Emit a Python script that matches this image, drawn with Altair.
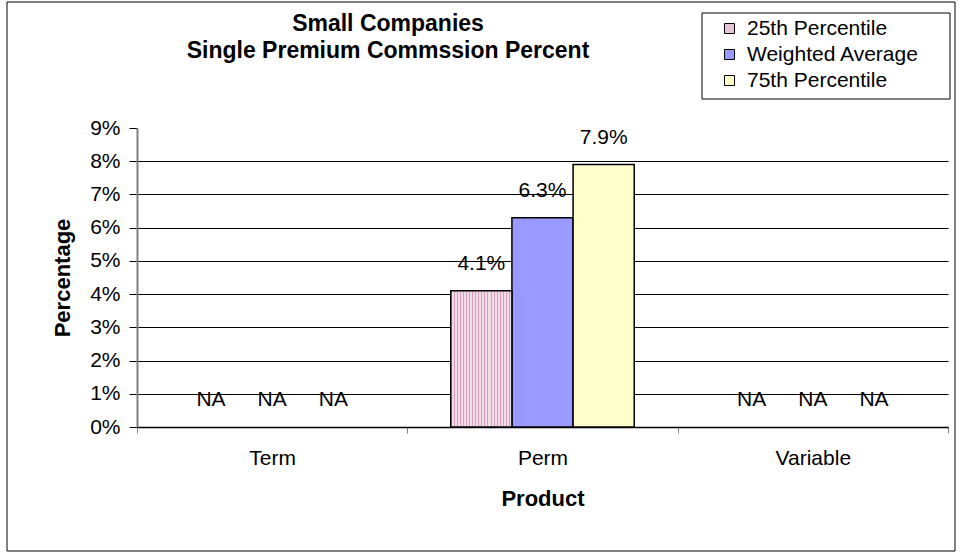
import altair as alt
import pandas as pd

products = ["Term", "Perm", "Variable"]
series = ["25th Percentile", "Weighted Average", "75th Percentile"]
term_vals = [None, None, None]
perm_vals = [0.041, 0.063, 0.079]
variable_vals = [None, None, None]
colors = ["#E8C4D8", "#9999FF", "#FFFFCC"]
y_ticks = [0.0, 0.01, 0.02, 0.03, 0.04, 0.05, 0.06, 0.07, 0.08, 0.09]
title_lines = ["Small Companies", "Single Premium Commssion Percent"]

rows = []
for prod, vals in zip(products, [term_vals, perm_vals, variable_vals]):
    for s, v in zip(series, vals):
        rows.append({
            "Product": prod,
            "Series": s,
            "Value": v,
            "LabelY": v if v is not None else 0.0,
            "Label": f"{v*100:.1f}%" if v is not None else "NA",
        })
df = pd.DataFrame(rows)

FONT = "Liberation Sans"

# striped fill for the 25th percentile bars
stops = []
n = 20
for i in range(n):
    a = i / n
    b = (i + 0.34) / n
    c = (i + 1) / n
    stops += [
        alt.GradientStop(offset=a, color="#D79DBF"),
        alt.GradientStop(offset=b, color="#D79DBF"),
        alt.GradientStop(offset=b, color="#F1DCE8"),
        alt.GradientStop(offset=c, color="#F1DCE8"),
    ]
stripe = alt.LinearGradient(gradient="linear", stops=stops, x1=0, x2=1, y1=0, y2=0)

x_axis = alt.Axis(
    title="Product", labelAngle=0, labelFontSize=21, labelColor="black",
    labelPadding=14, titleFontSize=22, titleFontWeight="bold", titleColor="black",
    titlePadding=20, domainColor="black", domainWidth=1.5, tickColor="#808080",
    tickSize=6, tickBand="extent", grid=False, labelFont=FONT, titleFont=FONT,
)
y_axis = alt.Axis(
    title="Percentage", values=y_ticks, format=".0%", labelFontSize=21,
    labelColor="black", labelPadding=9, labelOverlap=False,
    titleFontSize=22, titleFontWeight="bold", titleColor="black", titlePadding=15,
    domainColor="#808080", domainWidth=2, tickColor="black", tickSize=8,
    gridColor="black", gridWidth=1, labelFont=FONT, titleFont=FONT,
    gridOpacity={"condition": {"test": "datum.value > 0.085", "value": 0}, "value": 1},
)
x_scale = alt.Scale(domain=products, paddingInner=0, paddingOuter=0)
xo_scale = alt.Scale(domain=series, paddingInner=0, paddingOuter=0.71)
y_scale = alt.Scale(domain=[0, 0.09], nice=False)

base = alt.Chart(df)

bars = base.transform_filter("isValid(datum.Value)").mark_bar(
    stroke="black", strokeWidth=1.5
).encode(
    x=alt.X("Product:N", sort=products, scale=x_scale, axis=x_axis),
    xOffset=alt.XOffset("Series:N", sort=series, scale=xo_scale),
    y=alt.Y("Value:Q", scale=y_scale, axis=y_axis),
    color=alt.Color(
        "Series:N", sort=series,
        scale=alt.Scale(domain=series, range=colors),
        legend=alt.Legend(
            title=None, orient="none", legendX=582, legendY=-110,
            labelFontSize=21, labelColor="black", labelFont=FONT, labelLimit=400,
            symbolType="square",
            symbolSize=100, symbolStrokeColor="black", symbolStrokeWidth=1,
            rowPadding=4, labelOffset=7, symbolOpacity=1,
        ),
    ),
)

stripes = base.transform_filter(
    f"datum.Series == '{series[0]}' && isValid(datum.Value)"
).mark_bar(stroke="black", strokeWidth=1.5, fill=stripe).encode(
    x=alt.X("Product:N", sort=products, scale=x_scale, axis=x_axis),
    xOffset=alt.XOffset("Series:N", sort=series, scale=xo_scale),
    y=alt.Y("Value:Q", scale=y_scale, axis=y_axis),
)

labels = base.mark_text(
    fontSize=21, color="black", baseline="middle", dy=-27, font=FONT
).encode(
    x=alt.X("Product:N", sort=products, scale=x_scale, axis=x_axis),
    xOffset=alt.XOffset("Series:N", sort=series, scale=xo_scale),
    y=alt.Y("LabelY:Q", scale=y_scale, axis=y_axis),
    text="Label:N",
)

frame_data = alt.Data(values=[{"k": 1}])
outer = alt.Chart(frame_data).mark_rect(
    fill="transparent", stroke="black", strokeWidth=1
).encode(
    x=alt.value(-130), x2=alt.value(818), y=alt.value(-126), y2=alt.value(423)
)
legend_box = alt.Chart(frame_data).mark_rect(
    fill="transparent", stroke="black", strokeWidth=1
).encode(
    x=alt.value(565), x2=alt.value(813), y=alt.value(-115), y2=alt.value(-29)
)
title1 = alt.Chart(frame_data).mark_text(
    fontSize=23, fontWeight="bold", font=FONT, color="black", align="center", baseline="middle"
).encode(x=alt.value(251), y=alt.value(-104), text=alt.value(title_lines[0]))
title2 = alt.Chart(frame_data).mark_text(
    fontSize=23, fontWeight="bold", font=FONT, color="black", align="center", baseline="middle"
).encode(x=alt.value(251), y=alt.value(-77), text=alt.value(title_lines[1]))

chart = alt.layer(bars, stripes, labels, outer, legend_box, title1, title2).properties(
    width=811,
    height=299,
    autosize=alt.AutoSizeParams(type="none"),
    padding={"left": 137, "top": 128, "right": 16, "bottom": 133},
).configure(
    font=FONT,
    background="white",
).configure_view(stroke=None)

chart.save("out.html", embed_options={"renderer": "svg", "actions": False})
